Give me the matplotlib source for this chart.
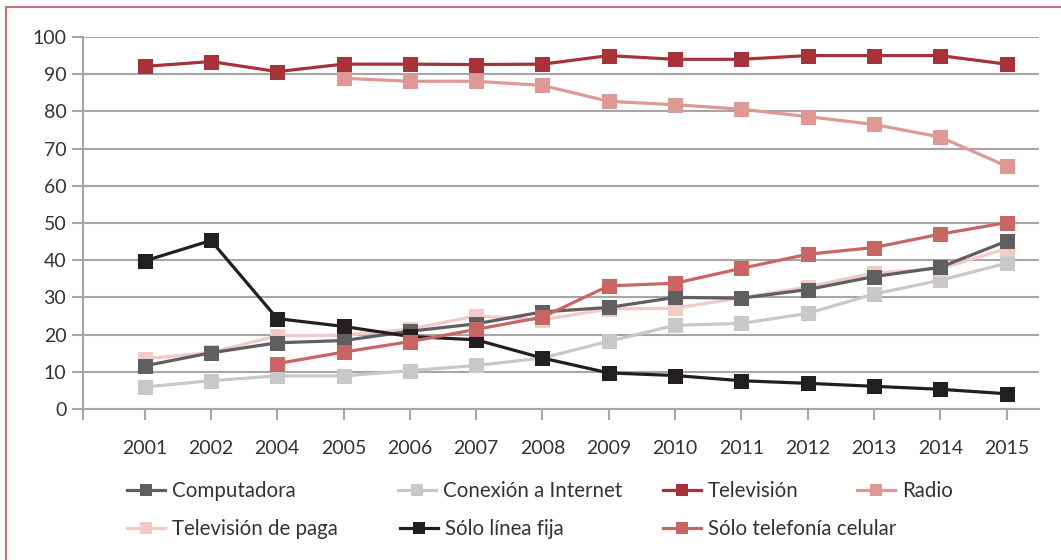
import numpy as np
import matplotlib
matplotlib.use("Agg")
import matplotlib.pyplot as plt
from matplotlib.lines import Line2D

plt.rcParams['font.family'] = ['Lato', 'DejaVu Sans']

years = ["2001", "2002", "2004", "2005", "2006", "2007", "2008",
         "2009", "2010", "2011", "2012", "2013", "2014", "2015"]
nan = np.nan
computadora = [11.6, 15.1, 17.8, 18.4, 20.9, 22.9, 26.1, 27.3, 30.0, 29.8, 32.1, 35.6, 38.1, 45.1]
internet = [5.9, 7.6, 8.9, 8.9, 10.3, 11.7, 13.7, 18.2, 22.5, 23.0, 25.7, 30.9, 34.6, 39.2]
television = [92.1, 93.4, 90.7, 92.7, 92.7, 92.6, 92.7, 95.0, 94.0, 94.0, 95.0, 95.0, 95.0, 92.7]
radio = [nan, nan, nan, 88.9, 88.1, 88.1, 87.0, 82.7, 81.8, 80.6, 78.6, 76.5, 73.1, 65.3]
tv_paga = [13.5, 15.2, 19.7, 19.8, 21.5, 25.0, 24.0, 26.9, 27.1, 29.9, 32.8, 36.6, 37.7, 43.1]
linea_fija = [39.8, 45.3, 24.3, 22.2, 19.5, 18.6, 13.7, 9.7, 9.0, 7.6, 6.9, 6.1, 5.3, 4.1]
celular = [nan, nan, 12.2, 15.3, 18.1, 21.4, 24.7, 33.1, 33.8, 37.8, 41.6, 43.4, 47.0, 50.1]

names = ["Computadora", "Conexión a Internet", "Televisión", "Radio",
         "Televisión de paga", "Sólo línea fija", "Sólo telefonía celular"]
series = [computadora, internet, television, radio, tv_paga, linea_fija, celular]
colors = ["#5f5f61", "#c8c8ca", "#a8323a", "#de9995", "#f2cbc9", "#231f20", "#c86664"]
yticks = [0, 10, 20, 30, 40, 50, 60, 70, 80, 90, 100]

W, H = 1061, 560
fig = plt.figure(figsize=(W / 100, H / 100), dpi=100)
ax = fig.add_axes([83 / W, 1 - 409 / H, (1039 - 83) / W, (409 - 37) / H])

x = np.arange(len(years))
order = [1, 4, 0, 5, 6, 3, 2]
for i in order:
    ax.plot(x, series[i], color=colors[i], lw=2.3, marker='s', ms=10.8,
            markeredgewidth=0, solid_joinstyle='miter', zorder=3)

ax.set_xlim(-0.93, len(years) - 1 + 0.49)
ax.set_ylim(0, 100)
ax.set_yticks(yticks)
ax.set_xticks(x)
ax.set_xticks([-0.93], minor=True)
ax.set_xticklabels(years)
ax.grid(axis='y', color='#a6a6a6', lw=1.5, zorder=0)
ax.set_axisbelow(True)
for s in ['top', 'right']:
    ax.spines[s].set_visible(False)
for s in ['left', 'bottom']:
    ax.spines[s].set_color('#a6a6a6')
    ax.spines[s].set_linewidth(1.5)
ax.tick_params(axis='y', length=8, width=1.5, color='#a6a6a6', labelsize=14,
               labelcolor='#333333', pad=4)
ax.tick_params(axis='x', which='both', length=8, width=1.5, color='#a6a6a6',
               labelsize=14, labelcolor='#333333', pad=14)

legend_pos = [(127, 491), (398, 491), (663, 491), (857, 491),
              (127, 529), (400, 529), (663, 529)]
for i, (px, py) in enumerate(legend_pos):
    hd = Line2D([], [], color=colors[i], lw=2.3, marker='s', ms=8.5, markeredgewidth=0)
    fig.legend(handles=[hd], labels=[names[i]], loc='center left',
               bbox_to_anchor=(px / W, 1 - py / H), frameon=False,
               fontsize=14.8, handlelength=1.85, handletextpad=0.34,
               borderpad=0, borderaxespad=0, labelcolor='#333333')

fig.add_artist(Line2D([5.5 / W, 5.5 / W], [0, 1 - 7 / H], transform=fig.transFigure,
                      color='#c87374', lw=1.5))
fig.add_artist(Line2D([5.5 / W, 1], [1 - 7 / H, 1 - 7 / H], transform=fig.transFigure,
                      color='#c87374', lw=1.5))

fig.savefig("out.png", dpi=100)
